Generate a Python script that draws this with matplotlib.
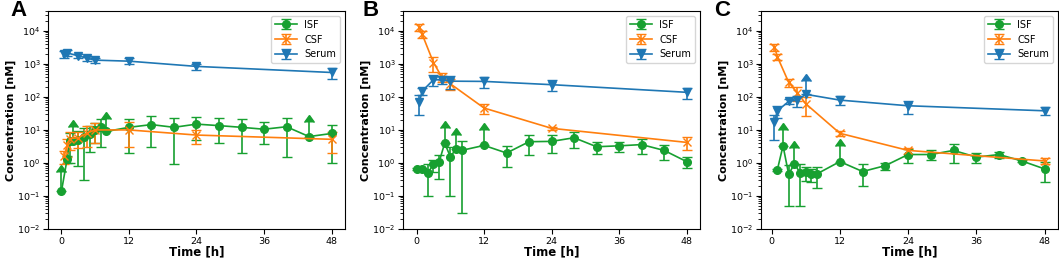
import numpy as np
import matplotlib
matplotlib.use('Agg')
import matplotlib.pyplot as plt

# ── 数据 ─────────────────────────────────────────────
# 面板 A
a_isf_t = [0, 1, 1.5, 2, 3, 4, 5, 6, 7, 8, 12, 16, 20, 24, 28, 32, 36, 40, 44, 48]
a_isf_y = [0.14, 1.3, 4.5, 4.6, 5.0, 6.0, 7.5, 10, 12.5, 9.0, 12, 14.5, 12, 15, 13.5, 12, 10.5, 12.5, 6.3, 7.8]
a_isf_e = [0.4, 0.3, 3.5, 7.5, 4.2, 5.7, 5.3, 6.0, 9.5, 13, 10, 11.5, 11.1, 10, 9.5, 10, 6.7, 11, 11, 6.8]
a_isf_lim = [1, 0, 0, 1, 0, 0, 0, 0, 0, 1, 0, 0, 0, 0, 0, 0, 0, 0, 1, 0]

a_csf_t = [0.5, 1, 1.5, 3, 4.5, 6, 12, 24, 48]
a_csf_y = [1.6, 3.5, 5.5, 5.8, 8.0, 10, 10, 7.0, 5.2]
a_csf_e = [0.7, 2.0, 3.0, 3.0, 5.0, 6.0, 7.0, 3.3, 3.2]
a_csf_lim = [0, 0, 0, 0, 0, 0, 0, 0, 0]

a_ser_t = [0.5, 1, 3, 4.5, 6, 12, 24, 48]
a_ser_y = [2000, 2150, 1760, 1490, 1300, 1210, 840, 550]
a_ser_e = [500, 450, 300, 250, 200, 250, 180, 210]
a_ser_lim = [0, 0, 0, 0, 0, 0, 0, 0]

# 面板 B
b_isf_t = [0, 1, 2, 3, 4, 5, 6, 7, 8, 12, 16, 20, 24, 28, 32, 36, 40, 44, 48]
b_isf_y = [0.66, 0.66, 0.5, 0.9, 1.05, 4.0, 1.55, 2.6, 2.4, 3.4, 2.0, 4.4, 4.5, 5.8, 3.1, 3.3, 3.6, 2.4, 1.1]
b_isf_e = [0.05, 0.05, 0.4, 0.35, 0.72, 7.5, 1.45, 4.5, 2.37, 6.5, 1.25, 2.6, 2.5, 3.0, 1.2, 1.1, 1.7, 1.2, 0.38]
b_isf_lim = [0, 0, 0, 0, 0, 1, 0, 1, 0, 1, 0, 0, 0, 0, 0, 0, 0, 0, 0]

b_csf_t = [0.5, 1, 3, 4.5, 6, 12, 24, 48]
b_csf_y = [13200, 7900, 1100, 400, 250, 46, 11.2, 4.2]
b_csf_e = [3000, 2000, 550, 120, 90, 15, 1.0, 1.8]
b_csf_lim = [0, 0, 0, 0, 0, 0, 0, 0]

b_ser_t = [0.5, 1, 3, 4.5, 6, 12, 24, 48]
b_ser_y = [70, 150, 330, 330, 300, 295, 235, 138]
b_ser_e = [42, 35, 120, 90, 130, 110, 80, 50]
b_ser_lim = [0, 0, 0, 0, 0, 0, 0, 0]

# 面板 C
c_isf_t = [1, 2, 3, 4, 5, 6, 7, 8, 12, 16, 20, 24, 28, 32, 36, 40, 44, 48]
c_isf_y = [0.62, 3.3, 0.45, 0.95, 0.5, 0.53, 0.47, 0.47, 1.1, 0.55, 0.83, 1.8, 1.8, 2.4, 1.5, 1.8, 1.15, 0.66]
c_isf_e = [0.03, 6.7, 0.4, 1.8, 0.45, 0.25, 0.2, 0.3, 2.2, 0.35, 0.2, 0.8, 0.6, 1.4, 0.5, 0.4, 0.1, 0.4]
c_isf_lim = [0, 1, 0, 1, 0, 0, 0, 0, 1, 0, 0, 0, 0, 0, 0, 0, 0, 0]

c_csf_t = [0.5, 1, 3, 4.5, 6, 12, 24, 48]
c_csf_y = [3300, 1650, 275, 135, 62, 7.9, 2.4, 1.15]
c_csf_e = [800, 300, 80, 60, 35, 1.2, 0.5, 0.25]
c_csf_lim = [0, 0, 0, 0, 0, 0, 0, 0]

c_ser_t = [0.5, 1, 3, 4.5, 6, 12, 24, 48]
c_ser_y = [17, 38, 73, 80, 120, 80, 54, 38]
c_ser_e = [12, 15, 12, 30, 180, 25, 23, 10]
c_ser_lim = [0, 0, 0, 0, 1, 0, 0, 0]

panels = [
    ('A', [(a_isf_t, a_isf_y, a_isf_e, a_isf_lim),
           (a_csf_t, a_csf_y, a_csf_e, a_csf_lim),
           (a_ser_t, a_ser_y, a_ser_e, a_ser_lim)]),
    ('B', [(b_isf_t, b_isf_y, b_isf_e, b_isf_lim),
           (b_csf_t, b_csf_y, b_csf_e, b_csf_lim),
           (b_ser_t, b_ser_y, b_ser_e, b_ser_lim)]),
    ('C', [(c_isf_t, c_isf_y, c_isf_e, c_isf_lim),
           (c_csf_t, c_csf_y, c_csf_e, c_csf_lim),
           (c_ser_t, c_ser_y, c_ser_e, c_ser_lim)]),
]
series_names = ['ISF', 'CSF', 'Serum']
series_colors = ['#17a030', '#ff7f0e', '#1f77b4']
series_markers = ['o', 'x', 'v']

fig = plt.figure(figsize=(10.59, 2.62), dpi=100)
lefts = [0.0453, 0.3806, 0.7186]
letter_x = [0.010, 0.342, 0.674]

for i, (letter, data) in enumerate(panels):
    ax = fig.add_axes([lefts[i], 0.126, 0.2805, 0.832])
    for j, (t, y, e, lim) in enumerate(data):
        ax.errorbar(t, y, yerr=e, lolims=np.array(lim, dtype=bool),
                    color=series_colors[j], marker=series_markers[j],
                    markersize=5.5, linewidth=1.2, elinewidth=1.2,
                    capsize=3.5, capthick=1.0, label=series_names[j])
    ax.set_yscale('log')
    ax.set_ylim(1e-2, 4e4)
    ax.set_xticks([0, 12, 24, 36, 48])
    ax.tick_params(labelsize=6.8, pad=2)
    ax.set_xlabel('Time [h]', fontsize=8.5, fontweight='bold', labelpad=0)
    ax.set_ylabel('Concentration [nM]', fontsize=8, fontweight='bold', labelpad=1)
    ax.legend(loc='upper right', fontsize=7, handlelength=2.2)
    fig.text(letter_x[i], 1.0, letter, fontsize=16, fontweight='bold',
             family='Liberation Sans', va='top', ha='left')

fig.savefig('out.png', dpi=100)
